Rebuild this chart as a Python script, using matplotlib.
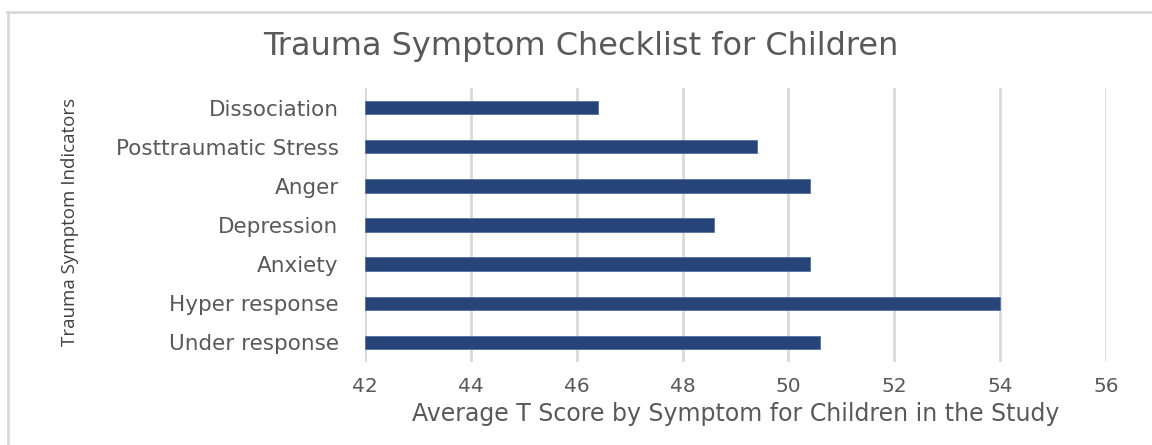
import matplotlib
matplotlib.use("Agg")
import matplotlib.pyplot as plt
from matplotlib.lines import Line2D

categories = ["Under response", "Hyper response", "Anxiety", "Depression",
              "Anger", "Posttraumatic Stress", "Dissociation"]
values = [50.6, 54.0, 50.4, 48.6, 50.4, 49.4, 46.4]
xticks = [42, 44, 46, 48, 50, 52, 54, 56]

W, H = 1152, 445
fig = plt.figure(figsize=(W / 100, H / 100), dpi=100)
fig.patch.set_facecolor("white")

FONT = ["DejaVu Sans"]

ax = fig.add_axes([365 / W, 1 - 362 / H, (1106 - 365) / W, (362 - 88) / H])
ax.barh(range(len(categories)), [v - 42 for v in values], left=42,
        height=0.34, color="#264478", edgecolor="#5470a0", linewidth=0.6, zorder=3)
ax.set_xlim(42, 56)
ax.set_ylim(-0.5, len(categories) - 0.5)
ax.set_xticks(xticks)
ax.set_xticklabels([str(t) for t in xticks])
ax.set_yticks(range(len(categories)))
ax.set_yticklabels(categories)
for s in ax.spines.values():
    s.set_visible(False)
ax.grid(axis="x", color="#D9D9D9", linewidth=2, zorder=0)
ax.tick_params(length=0, labelcolor="#595959")
ax.tick_params(axis="y", pad=19)
ax.tick_params(axis="x", pad=11)
for lbl in ax.get_xticklabels():
    lbl.set_fontfamily(FONT)
    lbl.set_fontsize(14.5)
for lbl in ax.get_yticklabels():
    lbl.set_fontfamily(FONT)
    lbl.set_fontsize(15.5)

ax.set_xlabel("Average T Score by Symptom for Children in the Study",
              fontsize=17, color="#595959", family=FONT, labelpad=4)

fig.text(70 / W, 1 - 222 / H, "Trauma Symptom Indicators", rotation=90,
         ha="center", va="center", fontsize=13.5, color="#404040",
         family=["Liberation Sans Narrow", "Open Sans", "DejaVu Sans"])

fig.text(581 / W, 1 - 46 / H, "Trauma Symptom Checklist for Children",
         ha="center", va="center", fontsize=23, color="#595959",
         family=FONT)

# outer border (top and left visible)
fig.add_artist(Line2D([7 / W, 1.0], [1 - 12 / H, 1 - 12 / H],
                      transform=fig.transFigure, color="#D9D9D9", linewidth=2))
fig.add_artist(Line2D([8 / W, 8 / W], [0, 1 - 12 / H],
                      transform=fig.transFigure, color="#D9D9D9", linewidth=2))

fig.savefig("out.png", dpi=100, facecolor="white")
